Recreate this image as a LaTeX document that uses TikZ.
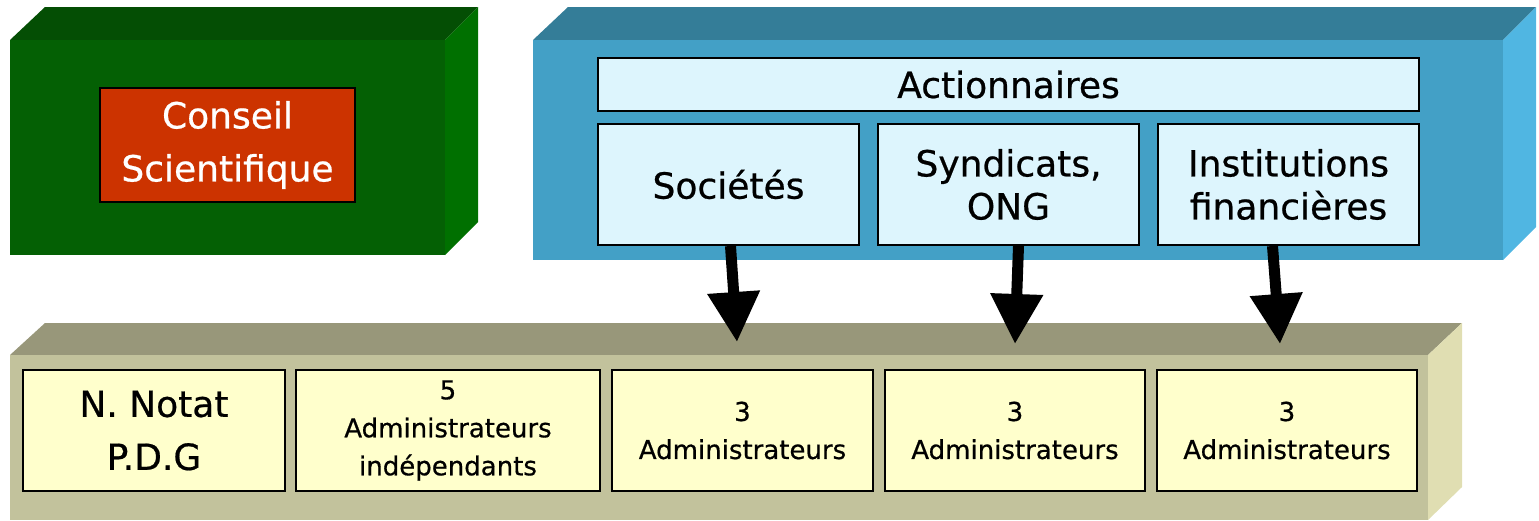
\documentclass[tikz,border=0pt]{standalone}
\usepackage{fontspec}
\setmainfont{DejaVu Sans}[BoldFont={DejaVu Sans}, BoldFeatures={FakeBold=0.6}]
\usetikzlibrary{arrows.meta,positioning}

\definecolor{greenFront}{RGB}{4,96,4}
\definecolor{greenTop}{RGB}{4,78,4}
\definecolor{greenSide}{RGB}{0,112,0}
\definecolor{redBox}{RGB}{204,51,0}
\definecolor{blueFront}{RGB}{67,160,198}
\definecolor{blueTop}{RGB}{52,125,152}
\definecolor{blueSide}{RGB}{80,182,226}
\definecolor{cyanBox}{RGB}{221,245,253}
\definecolor{tanFront}{RGB}{194,194,156}
\definecolor{tanTop}{RGB}{152,151,122}
\definecolor{tanSide}{RGB}{224,222,178}
\definecolor{yellowBox}{RGB}{255,255,204}

\tikzset{
  cell/.style={draw=black, line width=2pt, inner sep=0pt, align=center,
    minimum height=121pt, font=\fontsize{36}{43}\selectfont\bfseries},
  wide/.style={font=\fontsize{36}{53}\selectfont\bfseries},
  owner/.style={cell, fill=cyanBox, minimum width=261pt},
  seat/.style={cell, fill=yellowBox},
  small/.style={font=\fontsize{26}{38}\selectfont\bfseries},
  flow/.style={line width=11pt, -{Triangle[width=50pt,length=50pt]}}
}

\begin{document}
\begin{tikzpicture}[x=1pt,y=-1pt]
    \useasboundingbox (0,0) rectangle (1539,520);

    % Conseil scientifique block
    \fill[greenTop] (10,40) -- (45,7) -- (478,7) -- (445,40) -- cycle;
    \fill[greenSide] (445,40) -- (478,7) -- (478,222) -- (445,255) -- cycle;
    \fill[greenFront] (10,40) rectangle (445,255);
    \node[cell, wide, fill=redBox, text=white, minimum width=255pt, minimum height=114pt]
        (cs) at (227.5,145) {Conseil\\Scientifique};

    % Actionnaires block
    \fill[blueTop] (533,40) -- (568,7) -- (1536,7) -- (1503,40) -- cycle;
    \fill[blueSide] (1503,40) -- (1536,7) -- (1536,227) -- (1503,260) -- cycle;
    \fill[blueFront] (533,40) rectangle (1503,260);
    \node[cell, fill=cyanBox, minimum width=821pt, minimum height=53pt]
        (act) at (1008.5,84.5) {Actionnaires};
    \node[owner] (soc) at (728.5,184.5) {Sociétés};
    \node[owner] (syn) at (1008.5,184.5) {Syndicats,\\ONG};
    \node[owner] (inst) at (1288.5,184.5) {Institutions\\financières};

    % Conseil d'administration block
    \fill[tanTop] (10,355) -- (45,323) -- (1462,323) -- (1428,355) -- cycle;
    \fill[tanSide] (1428,355) -- (1462,323) -- (1462,487) -- (1428,520) -- cycle;
    \fill[tanFront] (10,355) rectangle (1428,520);
    \node[seat, wide, minimum width=262pt] (pdg) at (154,430.5) {N. Notat\\P.D.G};
    \node[seat, small, minimum width=304pt] (ind) at (448,430.5)
        {5\\Administrateurs\\indépendants};
    \node[seat, small, minimum width=261pt] (adm1) at (742.5,430.5) {3\\Administrateurs};
    \node[seat, small, minimum width=260pt] (adm2) at (1015,430.5) {3\\Administrateurs};
    \node[seat, small, minimum width=260pt] (adm3) at (1287,430.5) {3\\Administrateurs};

    % Arrows
    \coordinate (t1) at (737,342);
    \coordinate (t2) at (1015,344);
    \coordinate (t3) at (1280,344);
    \draw[flow] ([xshift=2pt]soc.south) -- (t1);
    \draw[flow] ([xshift=10pt]syn.south) -- (t2);
    \draw[flow] ([xshift=-16pt]inst.south) -- (t3);
\end{tikzpicture}
\end{document}
